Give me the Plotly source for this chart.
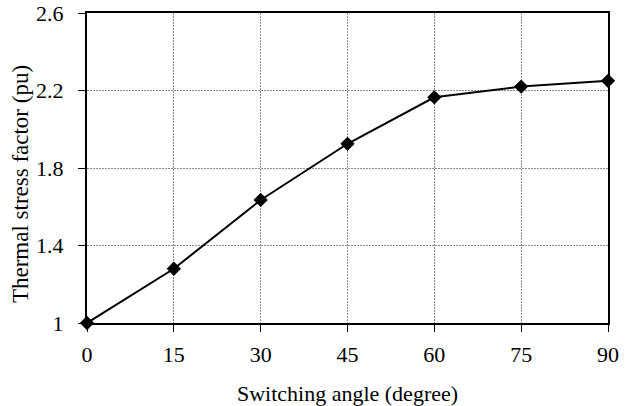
import plotly.graph_objects as go

angles = [0, 15, 30, 45, 60, 75, 90]
stress = [1.0, 1.28, 1.635, 1.925, 2.165, 2.22, 2.25]
x_ticks = [0, 15, 30, 45, 60, 75, 90]
y_ticks = [1, 1.4, 1.8, 2.2, 2.6]
y_labels = ["1", "1.4", "1.8", "2.2", "2.6"]
x_title = "Switching angle (degree)"
y_title = "Thermal stress factor (pu)"

fig = go.Figure(go.Scatter(
    x=angles, y=stress, mode="lines+markers",
    line=dict(color="black", width=2),
    marker=dict(symbol="diamond", size=11, color="black"),
    cliponaxis=False,
))

family = "Liberation Serif, Times New Roman, serif"
font = dict(family=family, size=22, color="black")
fig.update_layout(
    width=629, height=406,
    margin=dict(l=87, r=21, t=13, b=83, autoexpand=False),
    plot_bgcolor="white", paper_bgcolor="white",
    showlegend=False,
    font=font,
)
grid = dict(showgrid=True, gridcolor="#8c8c8c", griddash="2px,1px", gridwidth=1)
fig.update_xaxes(
    range=[0, 90], tickvals=x_ticks, ticks="outside", ticklen=7, tickwidth=1, tickcolor="black",
    showline=True, linecolor="black", linewidth=2, mirror=True, automargin=False,
    zeroline=False, tickfont=font, ticklabelstandoff=4,
    title=dict(text=x_title, font=font, standoff=25),
    **grid,
)
fig.update_yaxes(
    range=[1, 2.6], tickvals=y_ticks, ticktext=y_labels, ticks="outside", ticklen=7, tickwidth=1, tickcolor="black",
    showline=True, linecolor="black", linewidth=2, mirror=True, automargin=False,
    zeroline=False, tickfont=font, ticklabelstandoff=10,
    **grid,
)
fig.add_annotation(
    text=y_title, textangle=-90, showarrow=False,
    xref="paper", yref="paper", x=0, y=0.448, xanchor="center", yanchor="middle",
    xshift=-67, font=dict(family=family, size=23, color="black"),
)
fig.write_html("out.html", config={"displayModeBar": False},
               post_script="document.body.style.margin='0';")
